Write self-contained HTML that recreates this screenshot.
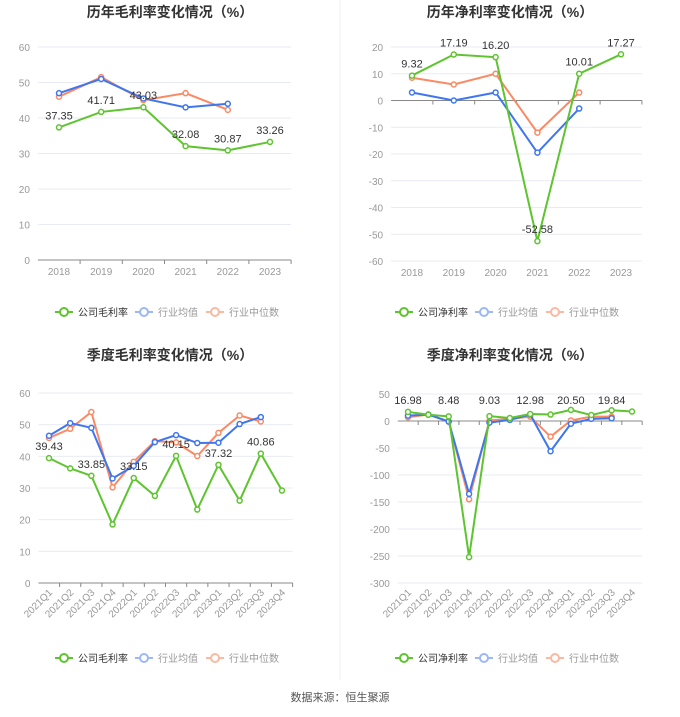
<!DOCTYPE html>
<html><head><meta charset="utf-8">
<style>
body{margin:0;background:#fff;width:680px;height:712px;overflow:hidden;font-family:"Liberation Sans","Noto Sans CJK SC",sans-serif}
svg text{font-family:"Liberation Sans","Noto Sans CJK SC",sans-serif}
</style></head><body>
<svg id="root" width="680" height="712" xmlns="http://www.w3.org/2000/svg">
<line x1="340" y1="0" x2="340" y2="680" stroke="#f0f0f0"/>
<text x="340" y="701" text-anchor="middle" font-size="11" fill="#555">数据来源：恒生聚源</text>
</svg>
<script>
const years=['2018','2019','2020','2021','2022','2023'];
const quarters=['2021Q1','2021Q2','2021Q3','2021Q4','2022Q1','2022Q2','2022Q3','2022Q4','2023Q1','2023Q2','2023Q3','2023Q4'];
const gmCompany=[37.35,41.71,43.03,32.08,30.87,33.26];
const gmAvg=[47,51,45.5,43,44];
const gmMed=[46,51.5,45,47,42.3];
const gmLabels=['37.35','41.71','43.03','32.08','30.87','33.26'];
const nmCompany=[9.32,17.19,16.20,-52.58,10.01,17.27];
const nmAvg=[3,0,3,-19.5,-3];
const nmMed=[8.5,6,10,-12,3];
const nmLabels=['9.32','17.19','16.20','-52.58','10.01','17.27'];
const qgmCompany=[39.43,36.2,33.85,18.5,33.15,27.5,40.15,23.2,37.32,26,40.86,29.2];
const qgmAvg=[46.5,50.5,49,33,37,44.5,46.7,44.2,44.3,50.2,52.4];
const qgmMed=[45.8,48.7,54,30.2,38.3,44.8,44.4,40.1,47.4,52.9,51];
const qgmLabels=['39.43','','33.85','','33.15','','40.15','','37.32','','40.86',''];
const qnmCompany=[16.98,11.5,8.48,-252,9.03,5.5,12.98,12,20.50,11,19.84,17.5];
const qnmAvg=[10,12,-1,-135,-3,2,12,-56,-5,4,5];
const qnmMed=[7,12,-1,-145,1,4,8,-29,1,8,8];
const qnmLabels=['16.98','','8.48','','9.03','','12.98','','20.50','','19.84',''];
const gmTicks=[0,10,20,30,40,50,60];
const nmTicks=[20,10,0,-10,-20,-30,-40,-50,-60];
const qnmTicks=[50,0,-50,-100,-150,-200,-250,-300];
const NS='http://www.w3.org/2000/svg';
const root=document.getElementById('root');
function mk(tag,attrs,parent){const e=document.createElementNS(NS,tag);for(const k in attrs)e.setAttribute(k,attrs[k]);(parent||root).appendChild(e);return e;}
function chart(o){
 const g=mk('g',{});
 
 
 const lo=Math.min(...o.ticks),hi=Math.max(...o.ticks);
 const y=v=>o.yBot-(v-lo)/(hi-lo)*(o.yBot-o.yTop);
 const x=i=>o.x0+i*(o.x1-o.x0)/(o.cats.length-1);
 const step=(o.x1-o.x0)/(o.cats.length-1);
 const t=mk('text',{x:o.cx,y:o.titleY,'text-anchor':'middle','font-size':14,'font-weight':'bold',fill:'#333'},g);t.textContent=o.title;
 
 
 o.ticks.forEach(v=>{
  const gl=mk('line',{x1:o.x0-step/2,x2:o.x1+step/2,y1:y(v),y2:y(v),stroke:'#e8ebf3'},g);
  
  
  const tl=mk('text',{x:o.x0-step/2-8,y:y(v)+4,'text-anchor':'end','font-size':10,fill:'#999'},g);tl.textContent=v;
  
  
 });
 const ax=mk('line',{x1:o.x0-step/2,x2:o.x1+step/2,y1:y(o.axisAt),y2:y(o.axisAt),stroke:'#888'},g);
 
 
 o.cats.forEach((c,i)=>{
  mk('line',{x1:x(i)+step/2,x2:x(i)+step/2,y1:y(o.axisAt),y2:y(o.axisAt)+4,stroke:'#888'},g);
  let tx;
  if(o.rot){tx=mk('text',{x:x(i)+4,y:o.yBot+10,'text-anchor':'end','font-size':10,fill:'#999',transform:`rotate(-45 ${x(i)+4} ${o.yBot+10})`},g);}
  else tx=mk('text',{x:x(i),y:o.yBot+15,'text-anchor':'middle','font-size':10,fill:'#999'},g);
  tx.textContent=c;
  
  
 });
 const series=[[o.med,'#fb8a64','median-line'],[o.avg,'#3f76f0','average-line'],[o.comp,'#5ec42f','company-line']];
 series.forEach(([d,col,nm])=>{
  const p=mk('polyline',{points:d.map((v,i)=>x(i)+','+y(v)).join(' '),fill:'none',stroke:col,'stroke-width':2},g);
  
  
  d.forEach((v,i)=>{const c=mk('circle',{cx:x(i),cy:y(v),r:2.5,fill:'#fff',stroke:col,'stroke-width':1.5},g);
   
   });
 });
 o.labels.forEach((l,i)=>{if(!l)return;
  const tl=mk('text',{x:x(i),y:(o.labelY?o.labelY:y(o.comp[i])-8),'text-anchor':'middle','font-size':11,fill:'#333'},g);tl.textContent=l;
  
  
 });
 const ly=o.legendY,lx=o.cx-115;
 [[o.leg,'#5ec42f','#333',0,'legend-company'],['行业均值','#9db8f5','#999',80,'legend-average'],['行业中位数','#fbb9a2','#999',151,'legend-median']].forEach(([txt,col,tc,dx,nm])=>{
  const lg=mk('g',{},g);
  
  
  mk('line',{x1:lx+dx,x2:lx+dx+18,y1:ly,y2:ly,stroke:col,'stroke-width':2},lg);
  mk('circle',{cx:lx+dx+9,cy:ly,r:4,fill:'#fff',stroke:col,'stroke-width':2},lg);
  const tt=mk('text',{x:lx+dx+23,y:ly+4,'font-size':10,fill:tc},lg);tt.textContent=txt;
 });
}
chart({name:'annual-gross-margin-chart',title:'历年毛利率变化情况（%）',titleY:17,cx:170,cats:years,x0:59,x1:270,yTop:47,yBot:260,ticks:gmTicks,axisAt:0,comp:gmCompany,avg:gmAvg,med:gmMed,labels:gmLabels,leg:'公司毛利率',legendY:312});
chart({name:'annual-net-margin-chart',title:'历年净利率变化情况（%）',titleY:17,cx:510,cats:years,x0:412,x1:621,yTop:47,yBot:261,ticks:nmTicks,axisAt:0,comp:nmCompany,avg:nmAvg,med:nmMed,labels:nmLabels,leg:'公司净利率',legendY:312});
chart({name:'quarterly-gross-margin-chart',title:'季度毛利率变化情况（%）',titleY:360,cx:170,cats:quarters,x0:49,x1:282,yTop:393,yBot:583,ticks:gmTicks,axisAt:0,comp:qgmCompany,avg:qgmAvg,med:qgmMed,labels:qgmLabels,leg:'公司毛利率',legendY:658,rot:true});
chart({name:'quarterly-net-margin-chart',title:'季度净利率变化情况（%）',titleY:360,cx:510,cats:quarters,x0:408,x1:632,yTop:394,yBot:583,ticks:qnmTicks,axisAt:0,comp:qnmCompany,avg:qnmAvg,med:qnmMed,labels:qnmLabels,labelY:404,leg:'公司净利率',legendY:658,rot:true});
</script>
</body></html>
